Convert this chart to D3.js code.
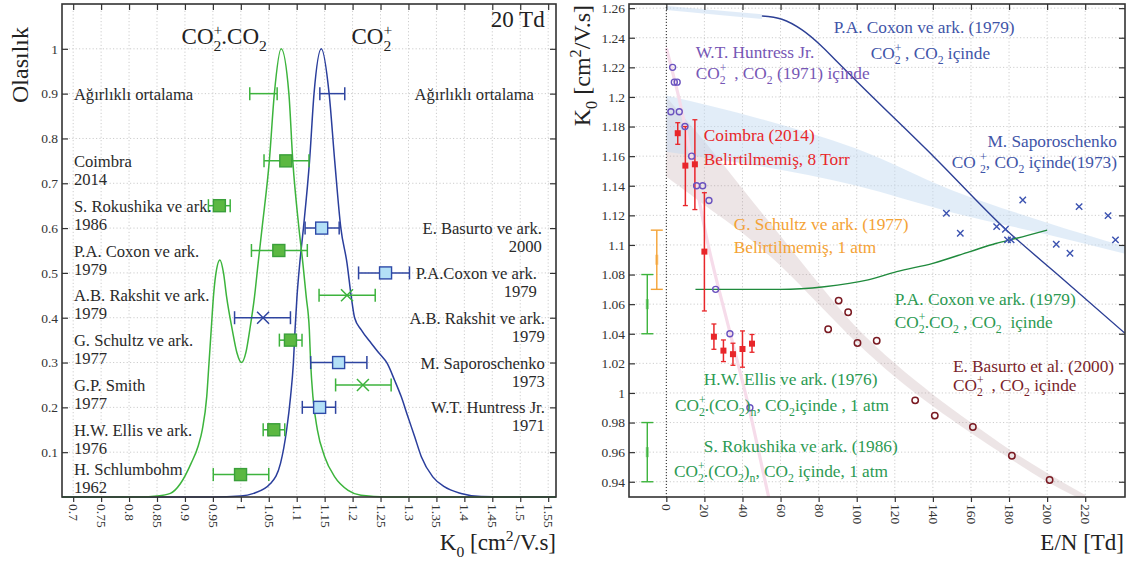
<!DOCTYPE html>
<html><head><meta charset="utf-8">
<script src="https://cdn.jsdelivr.net/npm/d3@7"></script>
<style>
body{margin:0;background:#fff}
svg{display:block}
text{font-family:"Liberation Serif","Times New Roman",serif;white-space:pre}
</style>
</head><body>
<svg id="c" width="1140" height="563"></svg>
<script>
// ---------------- LEFT PANEL DATA ----------------
const leftXTicks = [0.7,0.75,0.8,0.85,0.9,0.95,1,1.05,1.1,1.15,1.2,1.25,1.3,1.35,1.4,1.45,1.5,1.55];
const leftYTicks = [0.1,0.2,0.3,0.4,0.5,0.6,0.7,0.8,0.9,1];
// probability curves [K0, P]
const curveCO2 = [[0.68,0],[0.95,0],[1.0,0.002],[1.023,0.008],[1.053,0.03],[1.071,0.075],[1.082,0.15],[1.089,0.224],[1.094,0.298],[1.097,0.373],[1.1005,0.447],[1.1055,0.522],[1.112,0.6],[1.123,0.75],[1.131,0.9],[1.144,1.0],[1.158,0.9],[1.168,0.75],[1.179,0.6],[1.19,0.522],[1.1976,0.447],[1.2036,0.4],[1.2155,0.373],[1.2333,0.343],[1.248,0.32],[1.262,0.298],[1.275,0.261],[1.287,0.224],[1.299,0.179],[1.311,0.135],[1.323,0.09],[1.3435,0.045],[1.364,0.023],[1.394,0.008],[1.43,0.001],[1.47,0],[1.564,0]];
const curveDimer = [[0.68,0],[0.82,0],[0.85,0.002],[0.874,0.008],[0.892,0.03],[0.911,0.075],[0.924,0.115],[0.931,0.15],[0.939,0.224],[0.943,0.298],[0.947,0.373],[0.951,0.447],[0.955,0.495],[0.9625,0.529],[0.969,0.5],[0.9745,0.447],[0.9847,0.373],[0.993,0.322],[1.0013,0.3],[1.009,0.322],[1.016,0.373],[1.0245,0.447],[1.031,0.522],[1.038,0.6],[1.051,0.75],[1.06,0.9],[1.0722,1.0],[1.086,0.9],[1.093,0.75],[1.104,0.6],[1.111,0.522],[1.117,0.447],[1.1226,0.373],[1.125,0.298],[1.129,0.224],[1.137,0.15],[1.15,0.09],[1.168,0.045],[1.192,0.015],[1.215,0.004],[1.26,0],[1.564,0]];
// measurements with error bars
const barK    = [1.040, 1.164, 1.0805, 0.9616, 1.1447, 1.068, 1.259, 1.190, 1.0398, 1.0888, 1.175, 1.2185, 1.141, 1.059, 0.9995];
const barLo   = [1.016, 1.1414, 1.0415, 0.942, 1.115, 1.019, 1.2107, 1.140, 0.9888, 1.069, 1.125, 1.1696, 1.11, 1.04, 0.9507];
const barHi   = [1.065, 1.186, 1.122, 0.981, 1.176, 1.119, 1.3018, 1.2405, 1.0888, 1.1095, 1.2256, 1.269, 1.1696, 1.0786, 1.05];
const barP    = [0.9, 0.9, 0.75, 0.65, 0.6, 0.55, 0.5, 0.45, 0.4, 0.35, 0.3, 0.25, 0.2, 0.15, 0.05];
const barIon  = ['g','b','g','g','b','g','b','g','b','g','b','g','b','g','g'];
const barMark = ['none','none','sq','sq','sq','sq','sq','x','x','sq','sq','x','sq','sq','sq'];
// labels
const leftNames  = [["Ağırlıklı ortalama"],["Coimbra","2014"],["S. Rokushika ve ark.","1986"],["P.A. Coxon ve ark.","1979"],["A.B. Rakshit ve ark.","1979"],["G. Schultz ve ark.","1977"],["G.P. Smith","1977"],["H.W. Ellis ve ark.","1976"],["H. Schlumbohm","1962"]];
const leftNameP  = [0.9, 0.75, 0.65, 0.55, 0.45, 0.35, 0.25, 0.15, 0.0625];
const rightNames = [["Ağırlıklı ortalama"],["E. Basurto ve ark.","2000"],["P.A.Coxon ve ark.","1979"],["A.B. Rakshit ve ark.","1979"],["M. Saporoschenko","1973"],["W.T. Huntress Jr.","1971"]];
const rightNameP = [0.9, 0.6, 0.5, 0.4, 0.3, 0.2];
const rightNameK = [1.5245, 1.5387, 1.5298, 1.5441, 1.5441, 1.5441];

// ---------------- RIGHT PANEL DATA ----------------
const rightXTicks = [0,20,40,60,80,100,120,140,160,180,200,220];
const rightYTicks = [0.94,0.96,0.98,1,1.02,1.04,1.06,1.08,1.1,1.12,1.14,1.16,1.18,1.2,1.22,1.24,1.26];
const huntressX = [3.3, 4.2, 5.7, 2.4, 6.8, 9.8, 13.3, 15.9, 19.1, 22.4, 25.9, 33.4, 43.9];
const huntressY = [1.22, 1.21, 1.21, 1.19, 1.19, 1.18, 1.16, 1.14, 1.14, 1.13, 1.07, 1.04, 0.99];
const coimbraX  = [6, 10, 15, 20, 25, 30, 35, 40, 45];
const coimbraY  = [1.1755, 1.1536, 1.1545, 1.0955, 1.038, 1.0286, 1.0262, 1.0297, 1.0333];
const coimbraLo = [1.168, 1.1266, 1.1239, 1.0554, 1.0295, 1.0212, 1.0187, 1.0174, 1.0275];
const coimbraHi = [1.1826, 1.18, 1.1846, 1.1353, 1.0466, 1.0358, 1.0336, 1.0419, 1.0395];
const basurtoX  = [85, 90.5, 95.5, 100.4, 110.5, 130.7, 141, 161, 181.5, 201.3];
const basurtoY  = [1.043, 1.0624, 1.0545, 1.0338, 1.0353, 0.995, 0.9847, 0.977, 0.9576, 0.9412];
const saporoX   = [147.1, 154.4, 173.5, 178.1, 179.2, 181.1, 187.2, 204.8, 212, 216.8, 232, 235.9];
const saporoY   = [1.1214, 1.1079, 1.1124, 1.1106, 1.1034, 1.1034, 1.1304, 1.1005, 1.0944, 1.1259, 1.1198, 1.1034];
const coxonIonX = [50.2, 60.7, 71.3, 80.9, 89.6, 101, 140.6, 178.7, 207, 240.9];
const coxonIonY = [1.2547, 1.2525, 1.2453, 1.2351, 1.2239, 1.2093, 1.1595, 1.110, 1.0784, 1.0403];
const coxonDimX = [15.3, 60, 83, 106, 121, 140, 159.5, 173, 184, 200];
const coxonDimY = [1.07, 1.07, 1.0718, 1.0764, 1.082, 1.0876, 1.0955, 1.101, 1.1045, 1.110];
const topBandX   = [0, 50.2];
const topBandHi  = [1.2615, 1.2559];
const topBandLo  = [1.2588, 1.2527];
const blueBandX  = [0, 50, 100, 150, 200, 241];
const blueBandHi = [1.201, 1.185, 1.165, 1.137, 1.115, 1.099];
const blueBandLo = [1.163, 1.153, 1.140, 1.122, 1.107, 1.094];
const brownX  = [0, 20, 40, 60, 80, 100, 120, 140, 160, 180, 200, 220];
const brownHi = [1.200, 1.170, 1.138, 1.106, 1.074, 1.044, 1.020, 0.999, 0.980, 0.962, 0.946, 0.931];
const brownLo = [1.146, 1.127, 1.108, 1.086, 1.060, 1.034, 1.011, 0.991, 0.973, 0.956, 0.940, 0.927];
const pinkX = [0, 6.5, 22.5, 33.6, 43.2, 53.7, 56];
const pinkY = [1.233, 1.2, 1.097, 1.040, 0.991, 0.930, 0.917];
const sideX  = [-10, -5, -10];
const sideV  = [1.06, 1.09, 0.96];
const sideLo = [1.04, 1.07, 0.94];
const sideHi = [1.08, 1.11, 0.98];
const sideC  = ['green','orange','green'];
const annText = ["P.A. Coxon ve ark. (1979)","CO^{+}~_{2} , CO_{2} içinde","W.T. Huntress Jr.","CO^{+}~_{2}  , CO_{2} (1971) içinde","Coimbra (2014)","Belirtilmemiş, 8 Torr","M. Saporoschenko","CO ^{+}~_{2}, CO_{2} içinde(1973)","G. Schultz ve ark. (1977)","Belirtilmemiş, 1 atm","P.A. Coxon ve ark. (1979)","CO^{+}~_{2}.CO_{2} , CO_{2}  içinde","E. Basurto et al. (2000)","CO^{+}~_{2}  , CO_{2} içinde","H.W. Ellis ve ark. (1976)","CO^{+}~_{2}.(CO_{2})_{n}, CO_{2}içinde , 1 atm","S. Rokushika ve ark. (1986)","CO^{+}~_{2}.(CO_{2})_{n}, CO_{2} içinde, 1 atm"];
const annX = [87.9, 107.4, 15.4, 15.4, 19.7, 19.7, 236.7, 236.7, 35.4, 35.4, 120, 120, 150.5, 150.5, 19.7, 4.5, 19.7, 4];
const annY = [1.2432, 1.2257, 1.2264, 1.2122, 1.1703, 1.1541, 1.1662, 1.152, 1.1101, 1.0946, 1.0595, 1.0439, 1.0142, 1.0014, 1.0054, 0.9878, 0.9601, 0.9432];
const annC = ['blue','blue','purple','purple','red','red','blue','blue','orange','orange','green','green','darkred','darkred','green','green','green','green'];
const annEnd = [0,0,0,0,0,0,1,1,0,0,0,0,0,0,0,0,0,0];

// ---------------- STYLE ----------------
const COL = {blue:'#3f55a8', purple:'#7657b5', red:'#e8262a', orange:'#f4a235', green:'#2c9a52', darkred:'#7a1f2b'};
const FONT = '"Liberation Serif","Times New Roman",serif';
const svg = d3.select('#c');

function rich(t, markup) {
  const fs = parseFloat(t.attr('font-size'));
  const re = /\^\{([^}]*)\}|_\{([^}]*)\}|(~)|([^\^_~]+)/g;
  let m, shift = 0, stack = false, lastLen = 0, last = null;
  while ((m = re.exec(markup))) {
    if (m[3]) { stack = true; lastLen = last.getComputedTextLength(); continue; }
    let str, target, small = true;
    if (m[1] !== undefined) { str = m[1]; target = -0.38 * fs; }
    else if (m[2] !== undefined) { str = m[2]; target = 0.3 * fs; }
    else { str = m[4]; target = 0; small = false; }
    const ts = t.append('tspan').text(str).attr('dy', target - shift);
    if (small) ts.attr('font-size', fs * 0.68);
    if (stack) { ts.attr('dx', -lastLen); stack = false; }
    shift = target; last = ts.node();
  }
  return t;
}

function panel(P, x, y, xt, yt) {
  const g = svg.append('g');
  g.append('g').selectAll('line').data(xt).join('line')
    .attr('x1', d => x(d)).attr('x2', d => x(d)).attr('y1', P.y0).attr('y2', P.y1)
    .attr('stroke', '#cdcdcd').attr('stroke-dasharray', '1.2,2.2');
  g.append('g').selectAll('line').data(yt).join('line')
    .attr('y1', d => y(d)).attr('y2', d => y(d)).attr('x1', P.x0).attr('x2', P.x1)
    .attr('stroke', '#cdcdcd').attr('stroke-dasharray', '1.2,2.2');
  return g;
}
function axes(P, x, y, xt, yt) {
  const g = svg.append('g');
  const styl = s => { s.attr('font-family', FONT).attr('font-size', 13.5); s.select('.domain').remove(); s.selectAll('line').attr('stroke','#333').attr('stroke-width',1.2); s.selectAll('text').attr('fill','#333'); };
  const b = g.append('g').attr('transform', `translate(0,${P.y1})`)
    .call(d3.axisBottom(x).tickValues(xt).tickSize(5).tickFormat(d3.format('~g'))).call(styl);
  b.selectAll('text').attr('transform', 'rotate(90)').attr('x', 7).attr('y', 0).attr('dy', '0.33em').style('text-anchor', 'start');
  g.append('g').attr('transform', `translate(0,${P.y0})`)
    .call(d3.axisTop(x).tickValues(xt).tickSize(-6).tickFormat('')).call(styl);
  g.append('g').attr('transform', `translate(${P.x0},0)`)
    .call(d3.axisLeft(y).tickValues(yt).tickSize(-6).tickPadding(4).tickFormat(d3.format('~g'))).call(styl);
  g.append('g').attr('transform', `translate(${P.x1},0)`)
    .call(d3.axisRight(y).tickValues(yt).tickSize(-6).tickFormat('')).call(styl);
  g.append('rect').attr('x', P.x0).attr('y', P.y0).attr('width', P.x1 - P.x0).attr('height', P.y1 - P.y0)
    .attr('fill', 'none').attr('stroke', '#333').attr('stroke-width', 1.6);
}

// ================= LEFT PANEL =================
const L = {x0: 62, x1: 556, y0: 4, y1: 497};
const xL = d3.scaleLinear().domain([0.68, 1.564]).range([L.x0, L.x1]);
const yL = d3.scaleLinear().domain([0, 1.1]).range([L.y1, L.y0]);
const gl = panel(L, xL, yL, leftXTicks, leftYTicks);
const lineL = d3.line().x(d => xL(d[0])).y(d => yL(d[1])).curve(d3.curveMonotoneX);
gl.append('path').attr('d', lineL(curveCO2)).attr('fill', 'none').attr('stroke', '#2a3e9c').attr('stroke-width', 1.5);
gl.append('path').attr('d', lineL(curveDimer)).attr('fill', 'none').attr('stroke', '#3cb43c').attr('stroke-width', 1.5);

const ionStroke = {g: '#3db33d', b: '#2e44a0'};
const ionFill = {g: '#5cb842', b: '#b3e0f7'};
const ionEdge = {g: '#3a9f3a', b: '#2e4aa8'};
barK.forEach((k, i) => {
  const cy = yL(barP[i]), c = ionStroke[barIon[i]];
  const gb = gl.append('g');
  gb.append('line').attr('x1', xL(barLo[i])).attr('x2', xL(barHi[i])).attr('y1', cy).attr('y2', cy).attr('stroke', c).attr('stroke-width', 1.5);
  [barLo[i], barHi[i]].forEach(v => gb.append('line').attr('x1', xL(v)).attr('x2', xL(v)).attr('y1', cy - 6.5).attr('y2', cy + 6.5).attr('stroke', c).attr('stroke-width', 1.5));
  const cx = xL(k);
  if (barMark[i] === 'sq') {
    gb.append('rect').attr('x', cx - 6).attr('y', cy - 6).attr('width', 12).attr('height', 12)
      .attr('fill', ionFill[barIon[i]]).attr('stroke', ionEdge[barIon[i]]).attr('stroke-width', 1.4);
  } else if (barMark[i] === 'x') {
    gb.append('path').attr('d', `M${cx-6},${cy-6}L${cx+6},${cy+6}M${cx-6},${cy+6}L${cx+6},${cy-6}`).attr('stroke', c).attr('stroke-width', 1.5);
  }
});
leftNames.forEach((lines, i) => {
  lines.forEach((s, j) => gl.append('text').attr('x', xL(0.7013)).attr('y', yL(leftNameP[i]) + 6 + j * 18)
    .attr('font-size', 16.6).attr('fill', '#2a2a2a').text(s));
});
rightNames.forEach((lines, i) => {
  lines.forEach((s, j) => gl.append('text').attr('x', xL(rightNameK[i])).attr('y', yL(rightNameP[i]) + 6 + j * 18)
    .attr('font-size', 16.6).attr('fill', '#2a2a2a').attr('text-anchor', 'end').text(s));
});
rich(gl.append('text').attr('x', xL(0.894)).attr('y', 44).attr('font-size', 23).attr('fill', '#222'), 'CO^{+}~_{2}.CO_{2}');
rich(gl.append('text').attr('x', xL(1.198)).attr('y', 44).attr('font-size', 23).attr('fill', '#222'), 'CO^{+}~_{2}');
gl.append('text').attr('x', xL(1.5437)).attr('y', 27).attr('font-size', 23).attr('fill', '#222').attr('text-anchor', 'end').text('20 Td');
axes(L, xL, yL, leftXTicks, leftYTicks);
svg.append('text').attr('transform', 'translate(28,27) rotate(-90)').attr('text-anchor', 'end').attr('font-size', 24).attr('fill', '#222').text('Olasılık');
rich(svg.append('text').attr('x', 556).attr('y', 550).attr('text-anchor', 'end').attr('font-size', 23).attr('fill', '#222'), 'K_{0} [cm^{2}/V.s]');

// ================= RIGHT PANEL =================
const R = {x0: 629, x1: 1125, y0: 4, y1: 497};
const xR = d3.scaleLinear().domain([-19.6, 240.9]).range([R.x0, R.x1]);
const yR = d3.scaleLinear().domain([0.9297, 1.2628]).range([R.y1, R.y0]);
const gr = panel(R, xR, yR, rightXTicks, rightYTicks);
svg.append('clipPath').attr('id', 'clipR').append('rect').attr('x', R.x0).attr('y', R.y0).attr('width', R.x1 - R.x0).attr('height', R.y1 - R.y0);
const gc = gr.append('g').attr('clip-path', 'url(#clipR)');
const band = (X, H, Lo) => d3.area().x((d, i) => xR(X[i])).y0((d, i) => yR(Lo[i])).y1((d, i) => yR(H[i])).curve(d3.curveMonotoneX)(X);
gc.append('path').attr('d', band(topBandX, topBandHi, topBandLo)).attr('fill', 'rgb(195,217,241)').attr('fill-opacity', 0.5);
gc.append('path').attr('d', band(brownX, brownHi, brownLo)).attr('fill', 'rgb(178,145,150)').attr('fill-opacity', 0.24);
gc.append('path').attr('d', band(blueBandX, blueBandHi, blueBandLo)).attr('fill', 'rgb(195,217,241)').attr('fill-opacity', 0.48);
gc.append('path').attr('d', d3.line().x((d, i) => xR(pinkX[i])).y((d, i) => yR(pinkY[i])).curve(d3.curveMonotoneX)(pinkX))
  .attr('fill', 'none').attr('stroke', '#f6dcea').attr('stroke-width', 3.2);
gc.append('line').attr('x1', xR(0)).attr('x2', xR(0)).attr('y1', R.y0).attr('y2', R.y1).attr('stroke', '#222').attr('stroke-dasharray', '1,2');
const lineR = (X, Y) => d3.line().x((d, i) => xR(X[i])).y((d, i) => yR(Y[i])).curve(d3.curveMonotoneX)(X);
gc.append('path').attr('d', lineR(coxonIonX, coxonIonY)).attr('fill', 'none').attr('stroke', '#2c3f95').attr('stroke-width', 1.4);
gc.append('path').attr('d', lineR(coxonDimX, coxonDimY)).attr('fill', 'none').attr('stroke', '#1f8a3c').attr('stroke-width', 1.4);
// side error bars
sideX.forEach((sx, i) => {
  const c = sideC[i] === 'green' ? '#3cb43c' : '#f4a235';
  const cx = xR(sx);
  gc.append('line').attr('x1', cx).attr('x2', cx).attr('y1', yR(sideLo[i])).attr('y2', yR(sideHi[i])).attr('stroke', c).attr('stroke-width', 1.4);
  [sideLo[i], sideHi[i]].forEach(v => gc.append('line').attr('x1', cx - 6).attr('x2', cx + 6).attr('y1', yR(v)).attr('y2', yR(v)).attr('stroke', c).attr('stroke-width', 1.4));
  gc.append('rect').attr('x', cx - 1.5).attr('y', yR(sideV[i]) - 5).attr('width', 3).attr('height', 10).attr('fill', c).attr('opacity', 0.6);
});
// Coimbra
coimbraX.forEach((cxv, i) => {
  const cx = xR(cxv);
  gc.append('line').attr('x1', cx).attr('x2', cx).attr('y1', yR(coimbraLo[i])).attr('y2', yR(coimbraHi[i])).attr('stroke', '#e8262a').attr('stroke-width', 1.5);
  [coimbraLo[i], coimbraHi[i]].forEach(v => gc.append('line').attr('x1', cx - 2.5).attr('x2', cx + 2.5).attr('y1', yR(v)).attr('y2', yR(v)).attr('stroke', '#e8262a').attr('stroke-width', 1.3));
  gc.append('rect').attr('x', cx - 3).attr('y', yR(coimbraY[i]) - 3).attr('width', 6).attr('height', 6).attr('fill', '#e8262a');
});
// Huntress
gc.append('g').selectAll('circle').data(huntressX).join('circle')
  .attr('cx', d => xR(d)).attr('cy', (d, i) => yR(huntressY[i])).attr('r', 3)
  .attr('fill', 'none').attr('stroke', '#6a52bf').attr('stroke-width', 1.4);
// Basurto
gc.append('g').selectAll('circle').data(basurtoX).join('circle')
  .attr('cx', d => xR(d)).attr('cy', (d, i) => yR(basurtoY[i])).attr('r', 3.2)
  .attr('fill', 'none').attr('stroke', '#7a1a22').attr('stroke-width', 1.5);
// Saporoschenko
gc.append('g').selectAll('path').data(saporoX).join('path')
  .attr('d', (d, i) => { const cx = xR(d), cy = yR(saporoY[i]); return `M${cx-3.2},${cy-3.2}L${cx+3.2},${cy+3.2}M${cx-3.2},${cy+3.2}L${cx+3.2},${cy-3.2}`; })
  .attr('stroke', '#3b52b0').attr('stroke-width', 1.4);
// annotations
annText.forEach((s, i) => {
  const t = gr.append('text').attr('x', xR(annX[i])).attr('y', yR(annY[i])).attr('font-size', 17.3)
    .attr('fill', COL[annC[i]]).attr('text-anchor', annEnd[i] ? 'end' : 'start');
  rich(t, s);
});
axes(R, xR, yR, rightXTicks, rightYTicks);
rich(svg.append('text').attr('transform', 'translate(590,5) rotate(-90)').attr('text-anchor', 'end').attr('font-size', 24).attr('fill', '#222'), 'K_{0} [cm^{2}/V.s]');
svg.append('text').attr('x', 1124).attr('y', 550).attr('text-anchor', 'end').attr('font-size', 23).attr('fill', '#222').text('E/N [Td]');
</script>
</body></html>
